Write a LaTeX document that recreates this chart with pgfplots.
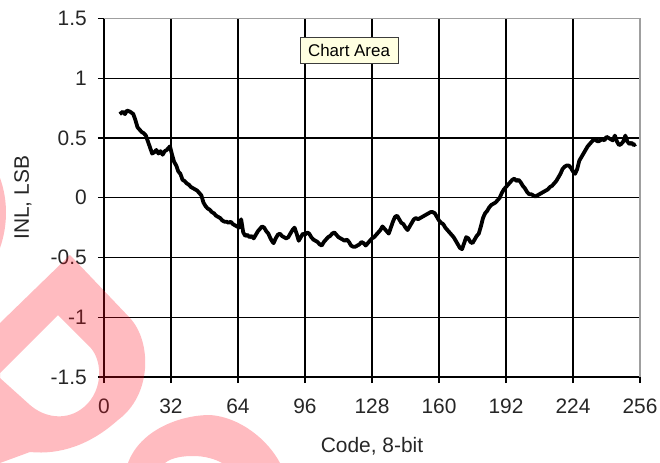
\documentclass[border=0pt]{standalone}
\usepackage{pgfplots}
\pgfplotsset{compat=1.18}
\usepackage{fontspec}
\setmainfont{Liberation Sans}
\definecolor{wmark}{RGB}{255,10,30}
\definecolor{tipfill}{RGB}{255,255,225}
\definecolor{tipdraw}{RGB}{60,60,60}

\begin{document}
\begin{tikzpicture}
\useasboundingbox (0,0) rectangle (660bp,-463bp);
\begin{axis}[
    at={(104bp,-377bp)}, anchor=south west,
    scale only axis,
    width=536bp, height=358.5bp,
    xmin=0, xmax=256, ymin=-1.5, ymax=1.5,
    xtick={0,32,...,256},
    ytick={-1.5,-1,...,1.5},
    axis x line*=bottom, axis y line*=left,
    tick align=outside, major tick length=6bp,
    grid=major,
    major grid style={black, line width=1.4bp},
    axis line style={black, line width=1.4bp},
    every tick/.style={black, line width=1.4bp},
    /pgf/number format/assume math mode=true,
    /pgf/number format/fixed,
    ticklabel style={font=\fontsize{21}{24}\selectfont, text=black!85},
    yticklabel style={anchor=east, inner sep=0pt, xshift=-11bp},
    xticklabel style={anchor=north, inner sep=0pt, yshift=-16bp},
    xlabel={Code, 8-bit},
    ylabel={INL, LSB},
    every axis x label/.style={at={(axis description cs:0.5,0)}, anchor=base,
        yshift=-75bp, font=\fontsize{21}{24}\selectfont, text=black!85},
    every axis y label/.style={at={(axis description cs:0,0.5)}, anchor=center,
        rotate=90, yshift=81bp, font=\fontsize{21}{24}\selectfont, text=black!85},
    clip=false,
]
\addplot[black, line width=3.8bp, line join=round] coordinates {
(7.5,0.70) (9,0.72) (10,0.70) (11,0.73) (12.5,0.72) (14,0.70) (15,0.65) (16,0.59) (17,0.57)
(18,0.55) (19,0.54) (20,0.52) (21,0.47) (22,0.42) (23,0.37) (24,0.38) (25,0.40)
(26,0.37) (27,0.39) (28,0.36) (29,0.39) (30,0.40) (31.5,0.43) (32.5,0.36) (33.5,0.30)
(34.5,0.27) (35.5,0.22) (36.5,0.20) (37.5,0.15) (38.5,0.14) (39.5,0.12) (40.5,0.11)
(41.5,0.09) (42.5,0.08) (43.5,0.07) (44.5,0.06) (45.5,0.04) (46.5,0.02) (47.5,-0.04)
(48.5,-0.07) (49.5,-0.09) (50.5,-0.10) (51.5,-0.12) (52.5,-0.13) (53.5,-0.15)
(54.5,-0.16) (55.5,-0.17) (56.5,-0.19) (57.5,-0.20) (58.5,-0.20) (59.5,-0.21)
(60.5,-0.20) (61.5,-0.22) (62.5,-0.23) (63.5,-0.24) (64.5,-0.25) (65.5,-0.18)
(66.5,-0.29) (67.5,-0.32) (68.5,-0.31) (69.5,-0.33) (70.5,-0.32) (71.5,-0.34)
(72.5,-0.31) (73.5,-0.28) (74.5,-0.26) (75.5,-0.24) (76.5,-0.25) (77.5,-0.28)
(78.5,-0.30) (79.5,-0.34) (80.5,-0.37) (81,-0.38) (82,-0.34) (83,-0.31) (84,-0.30)
(85,-0.32) (86,-0.33) (87,-0.34) (88,-0.33) (89,-0.30) (90,-0.27) (91,-0.25)
(92,-0.30) (93,-0.36) (94,-0.33) (95,-0.30) (96,-0.31) (97,-0.29) (98,-0.30)
(99,-0.33) (100,-0.35) (101,-0.36) (102,-0.37) (103,-0.39) (104,-0.40) (105,-0.37)
(106,-0.35) (107,-0.33) (108,-0.32) (109,-0.30) (110,-0.29) (111,-0.31) (112,-0.33)
(113,-0.34) (114,-0.35) (115,-0.36) (116,-0.35) (117,-0.37) (118,-0.40) (119,-0.41)
(120,-0.41) (121,-0.40) (122,-0.39) (123,-0.37) (124,-0.38) (125,-0.40) (126,-0.38)
(127,-0.36) (128,-0.34) (129,-0.33) (130,-0.31) (131,-0.29) (132,-0.27) (133,-0.24)
(134,-0.26) (135,-0.28) (136,-0.30) (137,-0.25) (138,-0.20) (139,-0.16) (140,-0.15)
(141,-0.18) (142,-0.21) (143,-0.22) (144,-0.25) (145,-0.27) (146,-0.24) (147,-0.21)
(148,-0.18) (149,-0.17) (150,-0.18) (151,-0.17) (152,-0.16) (153,-0.15) (154,-0.14)
(155,-0.13) (156,-0.12) (157,-0.12) (158,-0.13) (159,-0.16) (160,-0.19) (161,-0.21)
(162,-0.22) (163,-0.25) (164,-0.27) (165,-0.29) (166,-0.31) (167,-0.33) (168,-0.36)
(169,-0.39) (170,-0.42) (171,-0.43) (172,-0.38) (173,-0.33) (174,-0.34) (175,-0.37)
(176,-0.38) (177,-0.35) (178,-0.32) (179,-0.30) (180,-0.24) (181,-0.17) (182,-0.13)
(183,-0.11) (184,-0.08) (185,-0.06) (186,-0.05) (187,-0.04) (188,-0.02) (189,0.00)
(190,0.04) (191,0.07) (192,0.09) (193,0.11) (194,0.13) (195,0.15) (196,0.16)
(197,0.14) (198,0.15) (199,0.13) (200,0.10) (201,0.08) (202,0.05) (203,0.03)
(204,0.03) (205,0.02) (206,0.01) (207,0.02) (208,0.03) (209,0.04) (210,0.05)
(211,0.06) (212,0.07) (213,0.09) (214,0.10) (215,0.12) (216,0.14) (217,0.17)
(218,0.20) (219,0.24) (220,0.26) (221,0.27) (222,0.27) (223,0.25) (224,0.22)
(225,0.20) (226,0.24) (227,0.31) (228,0.34) (229,0.37) (230,0.40) (231,0.43)
(232,0.45) (233,0.47) (234,0.49) (235,0.48) (236,0.47) (237,0.48) (238,0.49)
(239,0.48) (240,0.51) (241,0.50) (242,0.49) (243,0.48) (244,0.52) (245,0.47)
(246,0.44) (247,0.45) (248,0.47) (249,0.52) (250,0.47) (251,0.45) (252,0.46)
(253,0.44) (254,0.45)
};
\draw[gray!75, line width=1.4bp] (rel axis cs:0,1) -- (rel axis cs:1,1) -- (rel axis cs:1,0);
\end{axis}

% tooltip box
\node[draw=tipdraw, fill=tipfill,
      minimum width=98bp, minimum height=26bp, inner sep=0pt,
      font=\fontsize{17}{20}\selectfont] at (349bp,-50bp) {Chart Area};

% watermark
\begin{scope}[x=1bp, y=-1bp]
\fill[wmark, opacity=0.28, even odd rule]
  (0,323) -- (70,255) -- (130,318) .. controls (152,342) and (152,395) .. (118,420)
  .. controls (90,445) and (60,455) .. (30,452) -- (0,463) -- cycle
  (58,315) -- (90,347) .. controls (104,362) and (103,395) .. (80,410)
  .. controls (65,420) and (45,418) .. (30,405) -- (0,378) -- (0,373) -- cycle;
\fill[wmark, opacity=0.28, even odd rule]
  (128,463) .. controls (140,430) and (180,415) .. (210,415)
  .. controls (240,417) and (268,440) .. (280,463) -- cycle
  (165,463) .. controls (172,457) and (185,456) .. (193,456)
  .. controls (205,456) and (215,459) .. (222,463) -- cycle;
\fill[wmark, opacity=0.28]
  (0,178) .. controls (8,200) and (8,225) .. (0,248) -- cycle;
\end{scope}
\end{tikzpicture}
\end{document}
